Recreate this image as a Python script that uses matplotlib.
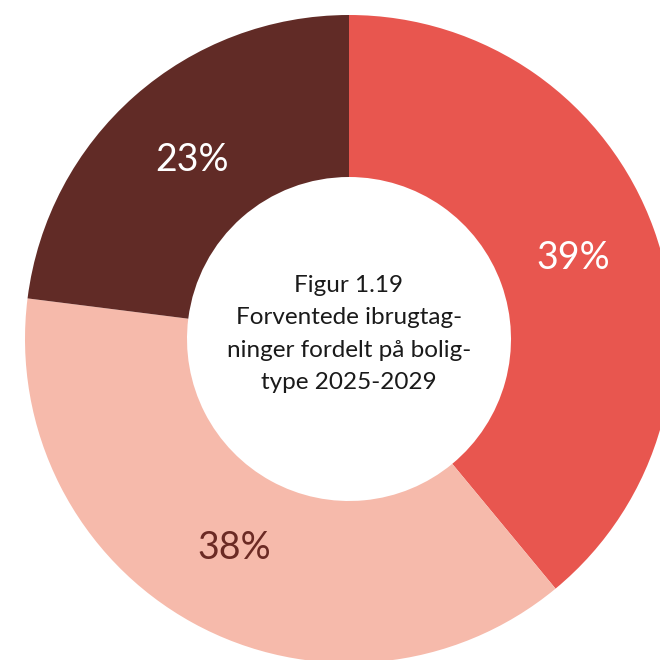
import numpy as np
import matplotlib.pyplot as plt

# ---- Data ----
categories = ["Type A", "Type B", "Type C"]
shares = [39, 38, 23]
labels = ["39%", "38%", "23%"]
colors = ["#E8564F", "#F6BAAB", "#612B26"]
label_colors = ["white", "#6B2A24", "white"]
center_text = "Figur 1.19\nForventede ibrugtag-\nninger fordelt på bolig-\ntype 2025-2029"

plt.rcParams["font.family"] = ["Lato", "DejaVu Sans"]

fig = plt.figure(figsize=(6.6, 6.6), dpi=100)
ax = fig.add_axes([0, 0, 1, 1])

cx, cy = 349, 321
r_out, r_in = 324, 162

wedges, _ = ax.pie(shares, colors=colors, startangle=90, counterclock=False,
                   center=(cx, cy), radius=r_out, frame=True,
                   wedgeprops=dict(width=r_out - r_in, linewidth=0))
ax.set_xlim(0, 660)
ax.set_ylim(0, 660)
ax.set_aspect("equal")
ax.axis("off")

# percentage labels on the ring
start = 90.0
lab_r = 238
for lab, lc, s in zip(labels, label_colors, shares):
    mid = start - 360 * s / 100 / 2
    start -= 360 * s / 100
    ang = np.deg2rad(mid)
    ax.text(cx + lab_r * np.cos(ang), cy + lab_r * np.sin(ang), lab,
            ha="center", va="center", fontsize=27, color=lc)

ax.text(cx, cy + 5, center_text, ha="center", va="center", fontsize=17.5,
        color="#1a1a1a", linespacing=1.68)

fig.savefig("out.png", dpi=100)
